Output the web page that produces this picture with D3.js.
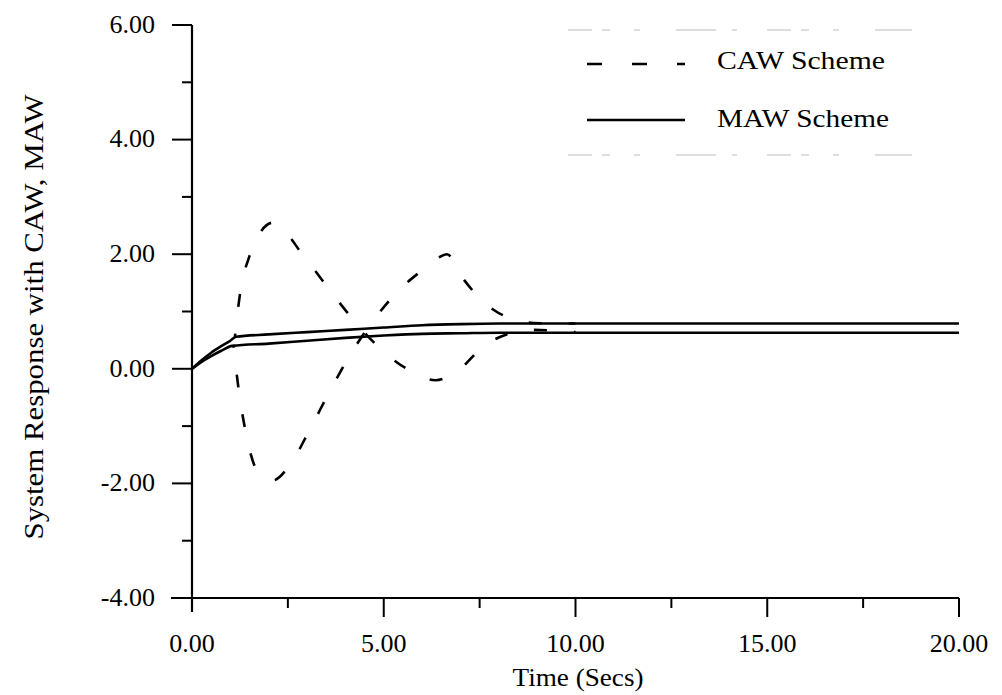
<!DOCTYPE html>
<html>
<head>
<meta charset="utf-8">
<script src="https://cdn.jsdelivr.net/npm/d3@7"></script>
<style>
  html, body { margin: 0; padding: 0; background: #fff; }
  svg { display: block; }
</style>
</head>
<body>
<svg id="chart" width="1002" height="695"></svg>
<script>
// ---- data ----
const xTickValues = [0, 5, 10, 15, 20];
const xTickLabels = ["0.00", "5.00", "10.00", "15.00", "20.00"];
const yTickValues = [-4, -2, 0, 2, 4, 6];
const yTickLabels = ["-4.00", "-2.00", "0.00", "2.00", "4.00", "6.00"];

const mawUpperT = [0, 0.25, 0.5, 0.75, 1.0, 1.15, 2, 3, 4, 5, 6, 7, 8, 9, 10, 12, 15, 20];
const mawUpperV = [0, 0.15, 0.28, 0.39, 0.49, 0.56, 0.60, 0.64, 0.68, 0.72, 0.76, 0.78, 0.79, 0.79, 0.79, 0.79, 0.79, 0.79];
const mawLowerT = [0, 0.25, 0.5, 0.75, 1.05, 2, 3, 4, 5, 6, 7, 8, 9, 10, 20];
const mawLowerV = [0, 0.12, 0.22, 0.31, 0.40, 0.44, 0.49, 0.54, 0.58, 0.61, 0.62, 0.63, 0.63, 0.63, 0.63];

const cawAT = [1.12, 1.25, 1.5, 1.8, 2.11, 2.45, 2.82, 3.2, 3.56, 4.24, 5.01, 5.6, 6.35, 6.9, 7.65, 8.2, 8.72, 9.4, 10];
const cawAV = [0.56, 1.3, 1.97, 2.4, 2.55, 2.38, 2.05, 1.72, 1.4, 0.83, 0.29, 0.0, -0.2, -0.05, 0.42, 0.6, 0.68, 0.67, 0.64];
const cawBT = [1.08, 1.21, 1.39, 1.72, 2.1, 2.53, 3.08, 3.6, 4.15, 4.78, 5.52, 6.0, 6.4, 6.65, 7.04, 7.86, 8.4, 8.9, 9.5, 10];
const cawBV = [0.42, -0.33, -1.07, -1.8, -1.95, -1.7, -1.05, -0.38, 0.27, 0.89, 1.45, 1.72, 1.93, 2.0, 1.6, 1.03, 0.86, 0.8, 0.79, 0.79];

const legendLabels = ["CAW Scheme", "MAW Scheme"];
const xTitle = "Time (Secs)";
const yTitle = "System Response with CAW, MAW";

// ---- layout ----
const FONT = "'Liberation Serif', 'DejaVu Serif', 'Times New Roman', serif";
const svg = d3.select("#chart");
svg.append("rect").attr("width", 1002).attr("height", 695).attr("fill", "#fff");

const x = d3.scaleLinear().domain([0, 20]).range([192, 959]);
const y = d3.scaleLinear().domain([-4, 6]).range([598, 25]);

const axisColor = "#000";

// y axis line (extends below x axis)
svg.append("line").attr("x1", x(0)).attr("x2", x(0)).attr("y1", y(6)).attr("y2", y(-4) + 14)
  .attr("stroke", axisColor).attr("stroke-width", 2.2);
// x axis line (extends left of y axis)
svg.append("line").attr("x1", x(0) - 21).attr("x2", x(20)).attr("y1", y(-4)).attr("y2", y(-4))
  .attr("stroke", axisColor).attr("stroke-width", 2.2);

// y ticks
const yMinor = d3.range(-4, 7, 1);
svg.selectAll(".yt").data(yMinor).enter().append("line")
  .attr("x1", d => x(0) - (d % 2 === 0 ? 20 : 10)).attr("x2", x(0))
  .attr("y1", d => y(d)).attr("y2", d => y(d))
  .attr("stroke", axisColor).attr("stroke-width", 2);
svg.selectAll(".yl").data(yTickValues).enter().append("text")
  .attr("x", x(0) - 37).attr("y", d => y(d)).attr("dy", "0.3em")
  .attr("text-anchor", "end").attr("font-size", 26).attr("font-family", FONT)
  .text((d, i) => yTickLabels[i]);

// x ticks
const xMinor = d3.range(2.5, 20.1, 2.5);
svg.selectAll(".xt").data(xMinor).enter().append("line")
  .attr("x1", d => x(d)).attr("x2", d => x(d))
  .attr("y1", y(-4)).attr("y2", d => y(-4) + (d % 5 === 0 ? 19 : 10))
  .attr("stroke", axisColor).attr("stroke-width", 2);
svg.selectAll(".xl").data(xTickValues).enter().append("text")
  .attr("x", d => x(d)).attr("y", 652)
  .attr("text-anchor", "middle").attr("font-size", 26).attr("font-family", FONT)
  .text((d, i) => xTickLabels[i]);

// titles
svg.append("text").attr("x", 578).attr("y", 686).attr("text-anchor", "middle")
  .attr("font-size", 26).attr("font-family", FONT)
  .attr("textLength", 131).attr("lengthAdjust", "spacingAndGlyphs").text(xTitle);
svg.append("text").attr("transform", `translate(43, 317) rotate(-90)`)
  .attr("text-anchor", "middle").attr("font-size", 28).attr("font-family", FONT)
  .attr("textLength", 445).attr("lengthAdjust", "spacingAndGlyphs").text(yTitle);

// ---- curves ----
const mk = (T, V) => T.map((t, i) => ({ t, v: V[i] }));
const lineFn = d3.line().x(d => x(d.t)).y(d => y(d.v)).curve(d3.curveMonotoneX);

[mk(mawUpperT, mawUpperV), mk(mawLowerT, mawLowerV)].forEach(data => {
  svg.append("path").attr("d", lineFn(data)).attr("fill", "none")
    .attr("stroke", "#000").attr("stroke-width", 2.6);
});
[mk(cawAT, cawAV), mk(cawBT, cawBV)].forEach(data => {
  svg.append("path").attr("d", lineFn(data)).attr("fill", "none")
    .attr("stroke", "#000").attr("stroke-width", 2.6)
    .attr("stroke-dasharray", "13,27").attr("stroke-dashoffset", 10);
});

// ---- legend ----
// faint remains of legend frame
[30, 155].forEach(yy => {
  svg.append("line").attr("x1", 568).attr("x2", 912).attr("y1", yy).attr("y2", yy)
    .attr("stroke", "#bbb").attr("stroke-width", 1)
    .attr("stroke-dasharray", "24,10,8,24,6,36,40,16,5,30");
});
svg.append("line").attr("x1", 587).attr("x2", 685).attr("y1", 64).attr("y2", 64)
  .attr("stroke", "#000").attr("stroke-width", 2.6).attr("stroke-dasharray", "15,30");
svg.append("line").attr("x1", 587).attr("x2", 685).attr("y1", 120).attr("y2", 120)
  .attr("stroke", "#000").attr("stroke-width", 2.6);
svg.append("text").attr("x", 717).attr("y", 69).attr("font-size", 25).attr("font-family", FONT)
  .attr("textLength", 168).attr("lengthAdjust", "spacingAndGlyphs").text(legendLabels[0]);
svg.append("text").attr("x", 717).attr("y", 127).attr("font-size", 25).attr("font-family", FONT)
  .attr("textLength", 172).attr("lengthAdjust", "spacingAndGlyphs").text(legendLabels[1]);
</script>
</body>
</html>
